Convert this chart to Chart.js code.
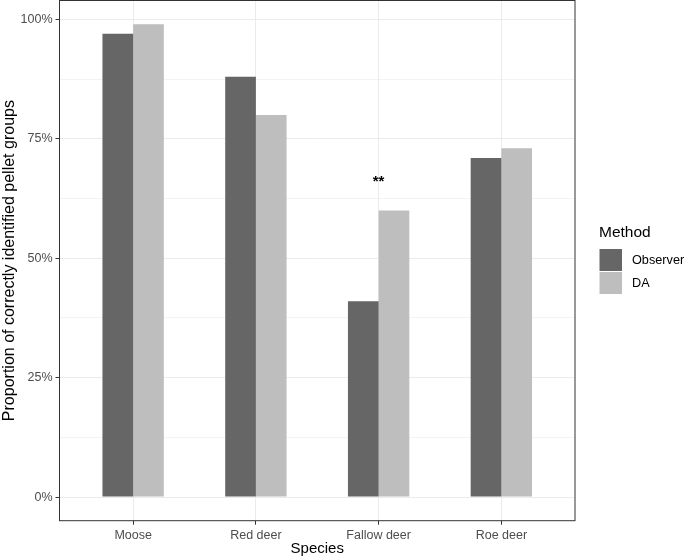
<!DOCTYPE html>
<html>
<head>
<meta charset="utf-8">
<script src="https://cdn.jsdelivr.net/npm/chart.js@4.4.1/dist/chart.umd.min.js"></script>
<style>
  html, body { margin: 0; padding: 0; background: #fff; }
  #wrap { width: 685px; height: 560px; }
</style>
</head>
<body>
<div id="wrap"><canvas id="chart" width="685" height="560"></canvas></div>
<script>
// data
var species = ["Moose", "Red deer", "Fallow deer", "Roe deer"];
var methods = ["Observer", "DA"];
var observer = [97, 88, 41, 71];
var da = [99, 80, 60, 73];
var yTicks = [0, 25, 50, 75, 100];
var yMinor = [12.5, 37.5, 62.5, 87.5];
var stars = [{ species: "Fallow deer", y: 66, text: "**" }];

var barColors = ["#666666", "#bebebe"];
var font = "'Liberation Sans', Arial, Helvetica, sans-serif";

function points(vals) {
    return vals.map(function (v, i) { return { x: i + 1, y: v }; });
}

// panel border, legend and the ** label
var extras = {
    id: "extras",
    afterDatasetsDraw: function (chart) {
        var ctx = chart.ctx;
        var a = chart.chartArea;
        var xs = chart.scales.x, ys = chart.scales.y;
        ctx.save();
        ctx.strokeStyle = "#333333";
        ctx.lineWidth = 1;
        ctx.strokeRect(a.left, a.top, a.right - a.left, a.bottom - a.top);

        ctx.fillStyle = "#000";
        ctx.font = "bold 15px " + font;
        ctx.textAlign = "center";
        ctx.textBaseline = "middle";
        stars.forEach(function (s) {
            var px = xs.getPixelForValue(species.indexOf(s.species) + 1);
            var py = ys.getPixelForValue(s.y);
            ctx.fillText(s.text, px, py);
        });

        // legend
        ctx.textAlign = "left";
        ctx.textBaseline = "alphabetic";
        ctx.font = "15.5px " + font;
        ctx.fillStyle = "#000";
        ctx.fillText("Method", 599, 237);
        ctx.font = "12.7px " + font;
        chart.data.datasets.forEach(function (ds, i) {
            var top = 248.5 + i * 23;
            ctx.fillStyle = ds.backgroundColor;
            ctx.fillRect(599.5, top + 0.5, 22.5, 22);
            ctx.fillStyle = "#000";
            ctx.textBaseline = "middle";
            ctx.fillText(ds.label, 632, top + 11.5);
        });
        ctx.restore();
    }
};

new Chart("chart", {
    type: "bar",
    data: {
        datasets: [
            { label: methods[0], data: points(observer), backgroundColor: barColors[0], borderWidth: 0 },
            { label: methods[1], data: points(da), backgroundColor: barColors[1], borderWidth: 0 }
        ]
    },
    options: {
        responsive: false,
        animation: false,
        layout: { padding: { left: 0, right: 110, top: 0.5, bottom: 0 } },
        datasets: { bar: { categoryPercentage: 0.5, barPercentage: 1 } },
        plugins: { legend: { display: false }, tooltip: { enabled: false } },
        scales: {
            x: {
                type: "linear",
                min: 0.4,
                max: 4.6,
                offset: false,
                afterBuildTicks: function (scale) {
                    scale.ticks = species.map(function (s, i) { return { value: i + 1 }; });
                },
                afterFit: function (scale) {
                    scale.height = 39.3;
                    scale.paddingLeft = 0;
                    scale.paddingRight = 0;
                },
                border: { display: false },
                grid: { offset: false, color: "#ebebeb", lineWidth: 1, tickLength: 4, tickColor: "#333333" },
                ticks: {
                    color: "#4d4d4d",
                    font: { family: font, size: 12.5 },
                    padding: 3,
                    maxRotation: 0,
                    callback: function (v) { return species[v - 1]; }
                },
                title: {
                    display: true,
                    text: "Species",
                    color: "#000",
                    font: { family: font, size: 15 },
                    padding: { top: 0, bottom: 2 }
                }
            },
            y: {
                min: -4.95,
                max: 103.95,
                afterBuildTicks: function (scale) {
                    scale.ticks = yTicks.concat(yMinor).sort(function (a, b) { return a - b; })
                        .map(function (v) { return { value: v }; });
                },
                afterFit: function (scale) {
                    scale.width = 59.5;
                    scale.paddingTop = 0;
                    scale.paddingBottom = 0;
                },
                border: { display: false },
                grid: {
                    color: "#ebebeb",
                    lineWidth: function (c) { return yTicks.indexOf(c.tick.value) >= 0 ? 1 : 0.6; },
                    tickLength: 4,
                    tickColor: function (c) { return yTicks.indexOf(c.tick.value) >= 0 ? "#333333" : "rgba(0,0,0,0)"; }
                },
                ticks: {
                    color: "#4d4d4d",
                    font: { family: font, size: 12.5 },
                    padding: 3,
                    callback: function (v) { return yTicks.indexOf(v) >= 0 ? v + "%" : ""; }
                },
                title: {
                    display: true,
                    text: "Proportion of correctly identified pellet groups",
                    color: "#000",
                    font: { family: font, size: 16 },
                    padding: { top: 0, bottom: 2 }
                }
            }
        }
    },
    plugins: [extras]
});
</script>
</body>
</html>
